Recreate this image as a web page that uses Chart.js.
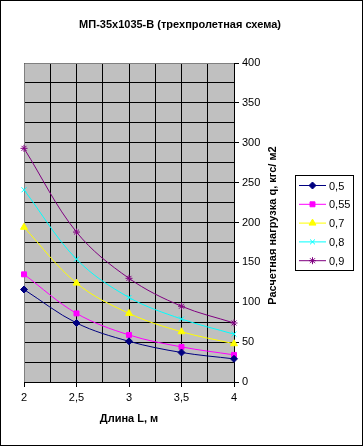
<!DOCTYPE html>
<html>
<head>
<meta charset="utf-8">
<script src="https://cdn.jsdelivr.net/npm/chart.js@4/dist/chart.umd.min.js"></script>
<style>
  html, body { margin: 0; padding: 0; background: #fff; }
  #wrap { width: 363px; height: 446px; }
</style>
</head>
<body>
<div id="wrap"><canvas id="chart" width="363" height="446"></canvas></div>
<script>
// data
const lengths = [2, 2.5, 3, 3.5, 4];
const seriesLabels = ['0,5', '0,55', '0,7', '0,8', '0,9'];
const q05 = [116, 74, 51, 37, 29];
const q055 = [135, 86, 59, 44, 34];
const q07 = [194, 124, 86, 63, 48];
const q08 = [241, 154, 106, 79, 60];
const q09 = [293, 188, 130, 95, 74];
const titleText = 'МП-35х1035-В (трехпролетная схема)';
const xTitle = 'Длина L, м';
const yTitle = 'Расчетная нагрузка q, кгс/ м2';

const FONT = '"Liberation Sans", Arial, sans-serif';
const colors = ['#000080', '#FF00FF', '#FFFF00', '#00FFFF', '#800080'];
const styles = ['rectRot', 'rect', 'triangle', 'crossRot', 'star'];
const radii = [3.5, 3.5, 4, 3.5, 3.5];
const allSeries = [q05, q055, q07, q08, q09];

const datasets = allSeries.map((vals, i) => ({
  label: seriesLabels[i],
  data: vals.map((v, k) => ({ x: lengths[k], y: v })),
  borderColor: colors[i],
  backgroundColor: colors[i],
  borderWidth: 1,
  pointStyle: styles[i],
  pointRadius: radii[i],
  pointBorderWidth: 1,
  pointBorderColor: colors[i],
  pointBackgroundColor: colors[i],
  tension: 0.35,
  clip: false
}));

const decor = {
  id: 'decor',
  beforeDraw(chart) {
    const ctx = chart.ctx, a = chart.chartArea;
    ctx.save();
    ctx.fillStyle = '#fff';
    ctx.fillRect(0, 0, chart.width, chart.height);
    ctx.fillStyle = '#C0C0C0';
    ctx.fillRect(a.left, a.top, a.right - a.left, a.bottom - a.top);
    ctx.restore();
  },
  beforeDatasetsDraw(chart) {
    const ctx = chart.ctx, a = chart.chartArea;
    ctx.save();
    ctx.strokeStyle = '#808080';
    ctx.lineWidth = 1;
    ctx.beginPath();
    ctx.moveTo(a.left + 0.5, a.bottom);
    ctx.lineTo(a.left + 0.5, a.top + 0.5);
    ctx.lineTo(a.right, a.top + 0.5);
    ctx.stroke();
    ctx.restore();
  },
  afterDraw(chart) {
    const ctx = chart.ctx, a = chart.chartArea;
    ctx.save();
    // outer border
    ctx.strokeStyle = '#000';
    ctx.lineWidth = 1;
    ctx.strokeRect(0.5, 0.5, chart.width - 1, chart.height - 1);

    ctx.fillStyle = '#000';
    ctx.font = 'bold 11px ' + FONT;
    ctx.textAlign = 'center';
    ctx.textBaseline = 'middle';
    ctx.fillText(titleText, 180, 25);
    ctx.fillText(xTitle, (a.left + a.right) / 2, 419);

    ctx.save();
    ctx.translate(273, (a.top + a.bottom) / 2 + 3);
    ctx.rotate(-Math.PI / 2);
    ctx.fillText(yTitle, 0, 0);
    ctx.restore();

    // legend
    ctx.strokeRect(295.5, 175.5, 58, 95);
    ctx.font = '11px ' + FONT;
    ctx.textAlign = 'left';
    chart.data.datasets.forEach((ds, i) => {
      const y = 185.5 + i * 18.8;
      ctx.strokeStyle = ds.borderColor;
      ctx.fillStyle = ds.borderColor;
      ctx.beginPath();
      ctx.moveTo(299, y);
      ctx.lineTo(326, y);
      ctx.stroke();
      Chart.helpers.drawPoint(ctx, {
        pointStyle: ds.pointStyle, radius: ds.pointRadius, borderWidth: 1, rotation: 0
      }, 312.5, y);
      ctx.fillStyle = '#000';
      ctx.fillText(ds.label, 329, y + 1);
    });
    ctx.restore();
  }
};

const comma = v => String(v).replace('.', ',');

new Chart(document.getElementById('chart'), {
  type: 'line',
  data: { datasets },
  options: {
    responsive: false,
    animation: false,
    layout: { padding: { left: 24, top: 63, right: 0, bottom: 0 } },
    plugins: { legend: { display: false }, tooltip: { enabled: false } },
    scales: {
      x: {
        type: 'linear',
        min: 2, max: 4,
        afterFit: s => { s.height = 64; },
        grid: {
          color: '#000',
          lineWidth: 1,
          tickLength: 5,
          tickColor: c => (Math.abs(c.tick.value * 2 - Math.round(c.tick.value * 2)) < 1e-6 ? '#000' : 'rgba(0,0,0,0)')
        },
        border: { color: '#000', width: 1 },
        ticks: {
          stepSize: 0.25,
          color: '#000',
          padding: 4,
          maxRotation: 0,
          autoSkip: false,
          font: { family: FONT, size: 11 },
          callback: v => (Math.abs(v * 2 - Math.round(v * 2)) < 1e-6 ? comma(v) : '')
        }
      },
      y: {
        position: 'right',
        min: 0, max: 400,
        afterFit: s => { s.width = 129; },
        grid: {
          color: '#000',
          lineWidth: 1,
          tickLength: 5,
          tickColor: c => (c.tick.value % 50 === 0 ? '#000' : 'rgba(0,0,0,0)')
        },
        border: { color: '#000', width: 1 },
        ticks: {
          stepSize: 25,
          color: '#000',
          padding: 3,
          autoSkip: false,
          font: { family: FONT, size: 11 },
          callback: v => (v % 50 === 0 ? comma(v) : '')
        }
      }
    }
  },
  plugins: [decor]
});
</script>
</body>
</html>
